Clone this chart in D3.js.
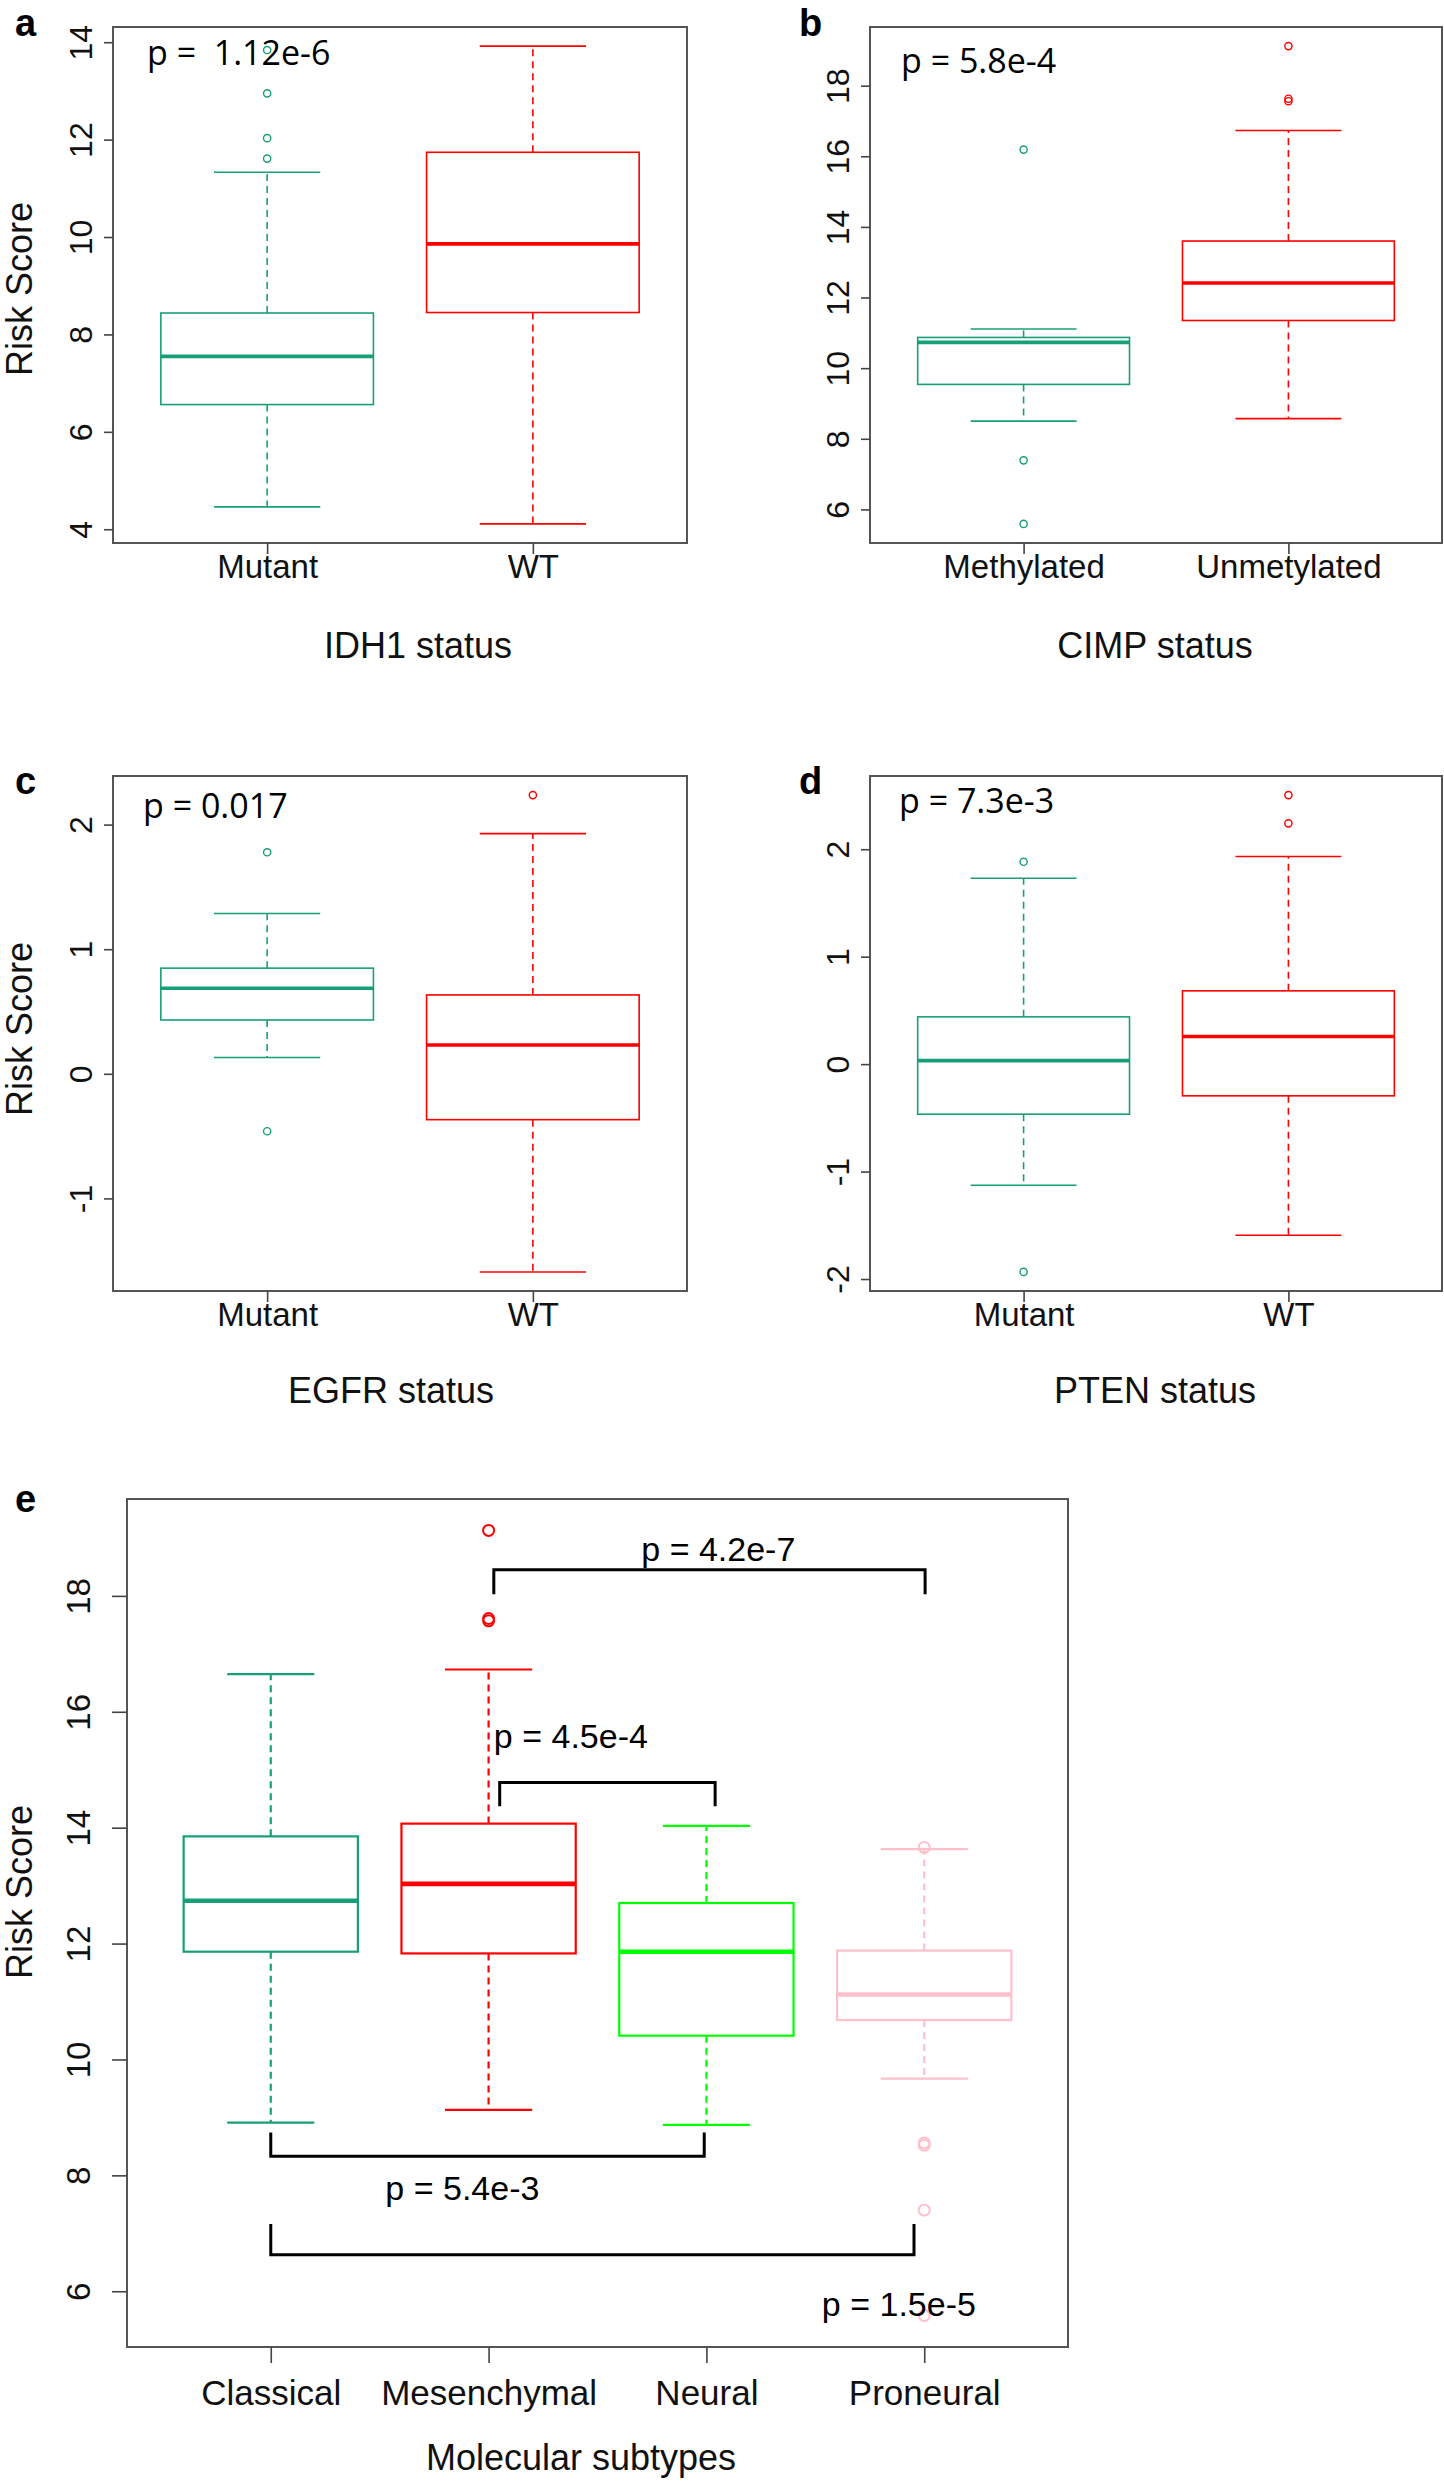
<!DOCTYPE html>
<html>
<head>
<meta charset="utf-8">
<script src="https://cdn.jsdelivr.net/npm/d3@7"></script>
<style>
  body { margin: 0; background: #fff; }
  svg { display: block; }
</style>
</head>
<body>
<script>
// box stats are [lower whisker, q1, median, q3, upper whisker]
var idh1Groups = ["Mutant", "WT"];
var idh1Stats = [[4.46, 6.56, 7.55, 8.44, 11.33], [4.11, 8.45, 9.86, 11.74, 13.92]];
var idh1Outliers = [[11.61, 12.03, 12.95, 13.84], []];
var idh1Ticks = [4, 6, 8, 10, 12, 14];

var cimpGroups = ["Methylated", "Unmetylated"];
var cimpStats = [[8.50, 9.54, 10.73, 10.87, 11.11], [8.57, 11.35, 12.41, 13.60, 16.73]];
var cimpOutliers = [[16.19, 7.39, 5.59], [19.12, 17.63, 17.56]];
var cimpTicks = [6, 8, 10, 12, 14, 16, 18];

var egfrGroups = ["Mutant", "WT"];
var egfrStats = [[0.131, 0.432, 0.687, 0.848, 1.286], [-1.59, -0.368, 0.231, 0.633, 1.928]];
var egfrOutliers = [[1.778, -0.461], [2.237]];
var egfrTicks = [-1, 0, 1, 2];

var ptenGroups = ["Mutant", "WT"];
var ptenStats = [[-1.127, -0.466, 0.033, 0.44, 1.73], [-1.593, -0.295, 0.257, 0.682, 1.933]];
var ptenOutliers = [[1.883, -1.934], [2.504, 2.241]];
var ptenTicks = [-2, -1, 0, 1, 2];

var subtypeGroups = ["Classical", "Mesenchymal", "Neural", "Proneural"];
var subtypeStats = [
  [8.91, 11.86, 12.74, 13.85, 16.65],
  [9.13, 11.83, 13.03, 14.07, 16.73],
  [8.87, 10.41, 11.86, 12.70, 14.03],
  [9.67, 10.68, 11.12, 11.88, 13.63]
];
var subtypeOutliers = [[], [19.13, 17.61, 17.57], [], [13.66, 8.56, 8.52, 7.40, 5.58]];
var subtypeTicks = [6, 8, 10, 12, 14, 16, 18];

var pValues = ["p =  1.12e-6", "p = 5.8e-4", "p = 0.017", "p = 7.3e-3"];
// pairwise comparisons in panel e: groups (1-based), bracket level and label
var brackets = [
  {from: 2.024, to: 4.004, y: 18.45, tip: 18.03, label: "p = 4.2e-7", lx: 2.701, ly: 18.60},
  {from: 2.051, to: 3.04, y: 14.78, tip: 14.37, label: "p = 4.5e-4", lx: 2.024, ly: 15.38},
  {from: 1.0, to: 2.99, y: 8.33, tip: 8.74, label: "p = 5.4e-3", lx: 1.526, ly: 7.58},
  {from: 1.0, to: 3.953, y: 6.63, tip: 7.16, label: "p = 1.5e-5", lx: 3.53, ly: 5.58}
];

var teal = "#17A078", red = "#FF0000", green = "#00FF00", pink = "#FFC0CB";
var rFont = "'Liberation Sans', Arial, sans-serif";
var pFont = "'Open Sans', 'Liberation Sans', sans-serif";

var svg = d3.select("body").append("svg")
    .attr("width", 1444)
    .attr("height", 2482);

svg.append("rect").attr("width", 1444).attr("height", 2482).attr("fill", "#fff");

function drawPanel(p) {
  var n = p.groups.length;
  var pad = n * 0.04;
  var x = d3.scaleLinear().domain([0.5 - pad, n + 0.5 + pad]).range([p.left, p.right]);

  var all = [];
  p.stats.forEach(function(s) { all = all.concat(s); });
  p.outliers.forEach(function(o) { all = all.concat(o); });
  var ext = d3.extent(all);
  var yp = (ext[1] - ext[0]) * 0.04;
  var y = d3.scaleLinear().domain([ext[0] - yp, ext[1] + yp]).range([p.bottom, p.top]);

  var g = svg.append("g");

  // boxes
  p.stats.forEach(function(s, i) {
    var cx = x(i + 1), col = p.colors[i];
    var bw = x(1.4) - x(1), cw = x(1.2) - x(1);
    g.append("line").attr("x1", cx).attr("x2", cx).attr("y1", y(s[3])).attr("y2", y(s[4]))
      .attr("stroke", col).attr("stroke-width", p.lw).attr("stroke-dasharray", "7,5");
    g.append("line").attr("x1", cx).attr("x2", cx).attr("y1", y(s[1])).attr("y2", y(s[0]))
      .attr("stroke", col).attr("stroke-width", p.lw).attr("stroke-dasharray", "7,5");
    [s[0], s[4]].forEach(function(v) {
      g.append("line").attr("x1", cx - cw).attr("x2", cx + cw).attr("y1", y(v)).attr("y2", y(v))
        .attr("stroke", col).attr("stroke-width", p.lw);
    });
    g.append("rect").attr("x", cx - bw).attr("width", 2 * bw)
      .attr("y", y(s[3])).attr("height", y(s[1]) - y(s[3]))
      .attr("fill", "none").attr("stroke", col).attr("stroke-width", p.lw);
    g.append("line").attr("x1", cx - bw).attr("x2", cx + bw).attr("y1", y(s[2])).attr("y2", y(s[2]))
      .attr("stroke", col).attr("stroke-width", p.mw);
    g.selectAll(null).data(p.outliers[i]).enter().append("circle")
      .attr("cx", cx).attr("cy", function(d) { return y(d); }).attr("r", p.r)
      .attr("fill", "none").attr("stroke", col).attr("stroke-width", p.lw * 0.9);
  });

  // frame
  g.append("rect").attr("x", p.left).attr("y", p.top)
    .attr("width", p.right - p.left).attr("height", p.bottom - p.top)
    .attr("fill", "none").attr("stroke", "#555").attr("stroke-width", 2);

  // y axis
  var ya = g.append("g").attr("transform", "translate(" + p.left + ",0)")
    .call(d3.axisLeft(y).tickValues(p.ticks).tickSize(p.tickLen).tickFormat(function(d) { return String(d); }));
  ya.select(".domain").remove();
  ya.selectAll(".tick line").attr("stroke", "#444").attr("stroke-width", 1.6);
  ya.selectAll(".tick text")
    .attr("transform", "rotate(-90)").attr("x", 0).attr("y", -p.yLabOff).attr("dy", 0)
    .attr("text-anchor", "middle").attr("fill", "#111")
    .style("font-family", rFont).style("font-size", p.tickFont + "px");

  // x axis
  var xa = g.append("g").attr("transform", "translate(0," + p.bottom + ")")
    .call(d3.axisBottom(x).tickValues(d3.range(1, n + 1)).tickSize(p.xTickLen)
      .tickFormat(function(d) { return p.groups[d - 1]; }));
  xa.select(".domain").remove();
  xa.selectAll(".tick line").attr("stroke", "#444").attr("stroke-width", 1.6);
  xa.selectAll(".tick text").attr("y", p.xLabOff).attr("dy", 0).attr("fill", "#111")
    .style("font-family", rFont).style("font-size", p.catFont + "px");

  // titles
  g.append("text").attr("x", p.titleX).attr("y", p.titleY).attr("text-anchor", "middle")
    .style("font-family", rFont).style("font-size", "36px").attr("fill", "#111").text(p.title);
  if (p.yTitle) {
    g.append("text").attr("transform", "translate(32," + p.yTitleY + ") rotate(-90)")
      .attr("text-anchor", "middle").style("font-family", rFont).style("font-size", "36px")
      .attr("fill", "#111").text("Risk Score");
  }
  g.append("text").attr("x", p.letterX).attr("y", p.letterY)
    .style("font-family", rFont).style("font-size", "38px").style("font-weight", "bold").text(p.letter);
  if (p.pText) {
    g.append("text").attr("x", p.pX).attr("y", p.pY).attr("xml:space", "preserve")
      .style("font-family", pFont).style("font-size", "34px").style("white-space", "pre")
      .text(p.pText);
  }
  return {x: x, y: y, g: g};
}

var small = {lw: 1.6, mw: 3.6, r: 3.6, tickLen: 9, xTickLen: 11, yLabOff: 21, xLabOff: 35, tickFont: 32, catFont: 33};

drawPanel(Object.assign({}, small, {
  groups: idh1Groups, stats: idh1Stats, outliers: idh1Outliers, ticks: idh1Ticks,
  colors: [teal, red], left: 113, right: 687, top: 27, bottom: 543,
  title: "IDH1 status", titleX: 418, titleY: 658, yTitle: true, yTitleY: 289,
  letter: "a", letterX: 15, letterY: 36, pText: pValues[0], pX: 147, pY: 65
}));

drawPanel(Object.assign({}, small, {
  groups: cimpGroups, stats: cimpStats, outliers: cimpOutliers, ticks: cimpTicks,
  colors: [teal, red], left: 870, right: 1442, top: 27, bottom: 543,
  title: "CIMP status", titleX: 1155, titleY: 658, yTitle: false,
  letter: "b", letterX: 799, letterY: 36, pText: pValues[1], pX: 901, pY: 73
}));

drawPanel(Object.assign({}, small, {
  groups: egfrGroups, stats: egfrStats, outliers: egfrOutliers, ticks: egfrTicks,
  colors: [teal, red], left: 113, right: 687, top: 776, bottom: 1291,
  title: "EGFR status", titleX: 391, titleY: 1403, yTitle: true, yTitleY: 1029,
  letter: "c", letterX: 15, letterY: 794, pText: pValues[2], pX: 143, pY: 818
}));

drawPanel(Object.assign({}, small, {
  groups: ptenGroups, stats: ptenStats, outliers: ptenOutliers, ticks: ptenTicks,
  colors: [teal, red], left: 870, right: 1442, top: 776, bottom: 1291,
  title: "PTEN status", titleX: 1155, titleY: 1403, yTitle: false,
  letter: "d", letterX: 799, letterY: 794, pText: pValues[3], pX: 899, pY: 813
}));

var e = drawPanel({
  lw: 2.2, mw: 4.6, r: 5.5, tickLen: 15, xTickLen: 16, yLabOff: 37, xLabOff: 58, tickFont: 33, catFont: 35,
  groups: subtypeGroups, stats: subtypeStats, outliers: subtypeOutliers, ticks: subtypeTicks,
  colors: [teal, red, green, pink], left: 127, right: 1068, top: 1499, bottom: 2347,
  title: "Molecular subtypes", titleX: 581, titleY: 2470, yTitle: true, yTitleY: 1892,
  letter: "e", letterX: 15, letterY: 1512
});

brackets.forEach(function(b) {
  e.g.append("path")
    .attr("d", "M" + e.x(b.from) + "," + e.y(b.tip) + "V" + e.y(b.y) + "H" + e.x(b.to) + "V" + e.y(b.tip))
    .attr("fill", "none").attr("stroke", "#000").attr("stroke-width", 3);
  e.g.append("text").attr("x", e.x(b.lx)).attr("y", e.y(b.ly))
    .style("font-family", rFont).style("font-size", "34px").text(b.label);
});
</script>
</body>
</html>
